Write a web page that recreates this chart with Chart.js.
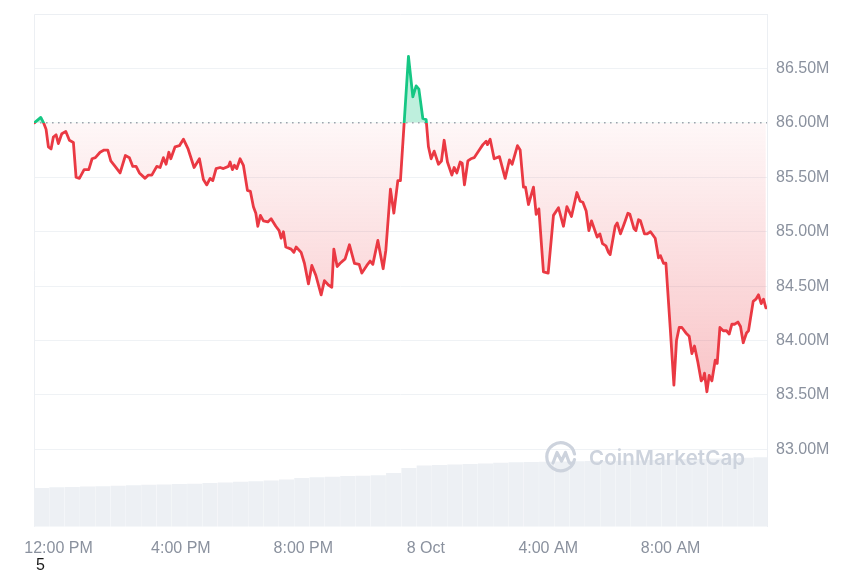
<!DOCTYPE html>
<html>
<head>
<meta charset="utf-8">
<script src="https://cdn.jsdelivr.net/npm/chart.js@4/dist/chart.umd.min.js"></script>
<style>
  html, body { margin: 0; padding: 0; background: #ffffff; }
  #wrap { position: relative; width: 860px; height: 573px; overflow: hidden; }
  #c { position: absolute; left: 0; top: 0; }
  #wm { position: absolute; left: 544px; top: 440px; height: 34px; display: flex; align-items: center; pointer-events: none; }
  #wm span { font-family: Inter, 'Noto Sans', sans-serif; font-weight: 600; font-size: 20.5px; color: #cdd3dd; margin-left: 11px; letter-spacing: 0.1px; }
  #note { position: absolute; left: 36px; top: 557px; font-family: 'Liberation Sans', Arial, sans-serif; font-size: 16px; line-height: 16px; color: #1a1a1a; }
</style>
</head>
<body>
<div id="wrap">
  <canvas id="c" width="860" height="573"></canvas>
  <div id="wm">
    <svg width="34" height="34" viewBox="0 0 34 34">
      <path d="M30.5 19.5 A14 14 0 1 1 30.5 14" fill="none" stroke="#cdd3dd" stroke-width="3.2" stroke-linecap="round"/>
      <path d="M9 23 L13 12.5 L17.5 21 L21.5 12.5 L25 22 Q26.5 25 29.5 22.5" fill="none" stroke="#cdd3dd" stroke-width="3.2" stroke-linecap="round" stroke-linejoin="round"/>
    </svg>
    <span>CoinMarketCap</span>
  </div>
  <div id="note">5</div>
</div>
<script>
// ---- data (time = hours after 12:00 PM, 7 Oct; market cap in millions USD) ----
const TIMES = [
  -0.790,-0.578,-0.471,-0.405,-0.330,-0.242,-0.167,-0.078,-0.003,0.108,
  0.239,0.356,0.487,0.575,0.683,0.837,0.990,1.098,1.206,1.359,
  1.490,1.611,1.709,1.850,2.013,2.186,2.317,2.428,2.536,2.644,
  2.830,2.938,3.049,3.212,3.320,3.428,3.516,3.605,3.670,3.810,
  3.951,4.082,4.235,4.431,4.605,4.735,4.846,4.954,5.042,5.150,
  5.281,
  5.389,5.552,5.608,5.683,5.748,5.827,5.935,6.042,6.173,6.271,
  6.369,6.448,6.513,6.598,6.696,6.840,6.948,7.101,7.209,7.275,
  7.350,7.428,7.601,7.690,7.765,7.928,8.036,8.167,8.278,8.408,
  8.582,8.690,8.820,8.931,8.997,9.105,9.203,9.366,9.507,9.670,
  9.824,9.912,10.075,10.183,10.271,10.435,10.608,10.696,10.846,10.958,
  11.088,11.173,
  11.435,11.578,11.686,11.775,11.905,12.013,12.088,12.176,12.275,12.415,
  12.513,12.601,12.709,12.853,12.928,13.016,13.124,13.190,13.265,13.376,
  13.474,13.582,13.722,13.866,13.974,14.016,14.105,14.235,14.408,14.595,
  14.735,14.824,14.997,15.085,15.193,15.258,15.356,15.520,15.608,15.696,
  15.846,16.000,16.173,16.337,16.500,16.611,16.761,16.938,17.046,17.134,
  17.242,
  17.330,17.415,17.601,17.689,17.775,17.886,17.971,18.026,18.190,18.255,
  18.363,18.493,18.605,18.670,18.801,18.866,18.951,19.016,19.147,19.235,
  19.343,19.497,19.605,19.670,19.768,19.847,19.987,20.108,20.193,20.281,
  20.369,20.500,20.608,20.696,20.781,20.892,21.000,21.075,21.108,21.186,
  21.261,21.350,21.458,21.523,21.611,21.719,21.827,21.915,22.003,22.088,
  22.199,22.284,22.373,22.480,22.546,22.699,22.788,22.873,22.961,23.036,
  23.114
];
const CAP = [
  86.00,86.05,85.99,85.94,85.78,85.76,85.87,85.89,85.81,85.90,
  85.92,85.84,85.82,85.50,85.49,85.57,85.57,85.67,85.68,85.73,
  85.75,85.75,85.65,85.60,85.54,85.70,85.68,85.60,85.60,85.54,
  85.49,85.52,85.52,85.60,85.59,85.68,85.62,85.73,85.67,85.78,
  85.79,85.85,85.76,85.59,85.67,85.48,85.43,85.49,85.47,85.58,
  85.59,
  85.58,85.60,85.64,85.57,85.61,85.58,85.67,85.61,85.38,85.37,
  85.23,85.17,85.05,85.15,85.10,85.09,85.12,85.05,85.01,84.94,
  85.00,84.86,84.84,84.81,84.86,84.81,84.71,84.52,84.69,84.60,
  84.42,84.55,84.51,84.49,84.84,84.68,84.71,84.75,84.88,84.71,
  84.70,84.62,84.69,84.73,84.70,84.92,84.66,84.83,85.39,85.17,
  85.47,85.47,
  86.61,86.24,86.34,86.31,86.04,86.03,85.78,85.67,85.74,85.62,
  85.65,85.84,85.64,85.52,85.59,85.54,85.64,85.63,85.43,85.65,
  85.67,85.68,85.74,85.80,85.83,85.80,85.85,85.67,85.69,85.49,
  85.66,85.62,85.79,85.75,85.41,85.41,85.25,85.41,85.16,85.21,
  84.63,84.62,85.15,85.22,85.05,85.23,85.14,85.36,85.28,85.27,
  85.19,
  85.01,85.10,84.95,84.98,84.89,84.87,84.81,84.79,85.05,85.08,
  84.98,85.08,85.17,85.16,85.03,85.01,85.11,85.10,84.98,84.98,
  85.00,84.94,84.76,84.78,84.71,84.71,84.12,83.59,84.00,84.12,
  84.12,84.07,84.04,83.88,83.95,83.80,83.63,83.66,83.70,83.53,
  83.68,83.63,83.82,83.79,84.12,84.09,84.09,84.06,84.15,84.15,
  84.17,84.13,83.98,84.07,84.09,84.36,84.38,84.42,84.34,84.38,
  84.30
];
const BASE = 86.00; // opening value (dotted reference line)

// volume bars, half-hour buckets (hours after 12:00 PM), relative units
const VOL_TIMES = [
  -0.55,-0.05,0.45,0.95,1.45,1.95,2.45,2.95,3.45,3.95,
  4.45,4.95,5.45,5.95,6.45,6.95,7.45,7.95,8.45,8.95,
  9.45,9.95,10.45,10.95,11.45,11.95,12.45,12.95,13.45,13.95,
  14.45,14.95,15.45,15.95,16.45,16.95,17.45,17.95,18.45,18.95,
  19.45,19.95,20.45,20.95,21.45,21.95,22.45,22.95
];
const VOLUME = [
  3.02,3.07,3.10,3.13,3.16,3.20,3.23,3.27,3.30,3.33,
  3.36,3.40,3.45,3.50,3.55,3.60,3.69,3.80,3.86,3.90,
  3.95,3.98,4.02,4.18,4.57,4.77,4.82,4.86,4.90,4.94,
  4.98,5.02,5.05,5.07,5.09,5.10,5.12,5.13,5.15,5.16,
  5.20,5.23,5.26,5.29,5.32,5.35,5.38,5.41
];

const X_TICKS = [0, 4, 8, 12, 16, 20];
const X_LABELS = ['12:00 PM', '4:00 PM', '8:00 PM', '8 Oct', '4:00 AM', '8:00 AM'];
const Y_TICKS = [83.0, 83.5, 84.0, 84.5, 85.0, 85.5, 86.0, 86.5];

// ---- styling ----
const RED = '#ea3943';
const GREEN = '#16c784';
const GRID = '#eff2f5';
const FRAME = '#eceff3';
const LABEL = '#8a919e';
const X_MIN = -0.8, X_MAX = 23.15;
const Y_MIN = 82.29, Y_MAX = 87.0;

Chart.defaults.font.family = "'Liberation Sans', Arial, Helvetica, sans-serif";
Chart.defaults.font.size = 16;
Chart.defaults.color = LABEL;

function lineGradient(context) {
  const chart = context.chart;
  const { chartArea, scales } = chart;
  if (!chartArea || !scales.y) return RED;
  const yb = scales.y.getPixelForValue(BASE);
  const g = chart.ctx.createLinearGradient(0, chartArea.top, 0, chartArea.bottom);
  let t = (yb - chartArea.top) / (chartArea.bottom - chartArea.top);
  t = Math.min(1, Math.max(0, t));
  g.addColorStop(0, GREEN);
  g.addColorStop(t, GREEN);
  g.addColorStop(t, RED);
  g.addColorStop(1, RED);
  return g;
}
function fillGradient(context) {
  const chart = context.chart;
  const { chartArea, scales } = chart;
  if (!chartArea || !scales.y) return 'rgba(234,57,67,0.1)';
  const y0 = scales.y.getPixelForValue(BASE);
  const y1 = scales.y.getPixelForValue(83.5);
  const g = chart.ctx.createLinearGradient(0, y0, 0, y1);
  g.addColorStop(0, 'rgba(234,57,67,0.04)');
  g.addColorStop(1, 'rgba(234,57,67,0.30)');
  return g;
}

const framePlugin = {
  id: 'frame',
  beforeDatasetsDraw(chart) {
    const { ctx, chartArea: a } = chart;
    ctx.save();
    ctx.strokeStyle = FRAME;
    ctx.lineWidth = 1;
    ctx.beginPath();
    ctx.moveTo(Math.round(a.left) + 0.5, a.bottom);
    ctx.lineTo(Math.round(a.left) + 0.5, Math.round(a.top) + 0.5);
    ctx.lineTo(a.right, Math.round(a.top) + 0.5);
    ctx.stroke();
    ctx.restore();
  }
};

new Chart(document.getElementById('c'), {
  data: {
    datasets: [
      {
        type: 'line',
        label: 'Market cap',
        data: TIMES.map((t, i) => ({ x: t, y: CAP[i] })),
        yAxisID: 'y',
        borderColor: lineGradient,
        backgroundColor: fillGradient,
        borderWidth: 2.8,
        borderJoinStyle: 'round',
        borderCapStyle: 'round',
        pointRadius: 0,
        tension: 0,
        fill: { value: BASE, above: 'rgba(22,199,132,0.28)' },
        order: 0
      },
      {
        type: 'line',
        label: 'Open',
        data: [{ x: X_MIN, y: BASE }, { x: X_MAX, y: BASE }],
        yAxisID: 'y',
        borderColor: '#9ea4ae',
        borderWidth: 1.5,
        borderDash: [1.6, 4.4],
        pointRadius: 0,
        fill: false,
        order: 1
      },
      {
        type: 'bar',
        label: 'Volume',
        data: VOL_TIMES.map((t, i) => ({ x: t, y: VOLUME[i] })),
        yAxisID: 'yv',
        backgroundColor: '#edf0f4',
        borderWidth: 0,
        barPercentage: 1,
        categoryPercentage: 0.985,
        order: 2
      }
    ]
  },
  options: {
    responsive: false,
    animation: false,
    layout: { padding: { left: 34, top: 14, right: 0, bottom: 0 } },
    plugins: {
      legend: { display: false },
      tooltip: { enabled: false },
      filler: { drawTime: 'beforeDatasetsDraw' }
    },
    scales: {
      x: {
        type: 'linear',
        position: 'bottom',
        min: X_MIN,
        max: X_MAX,
        offset: false,
        grid: { display: false, drawTicks: false },
        border: { display: false },
        afterBuildTicks: (scale) => { scale.ticks = X_TICKS.map(v => ({ value: v })); },
        afterFit: (scale) => { scale.height = 46.3; scale.paddingLeft = 0; scale.paddingRight = 0; },
        ticks: {
          autoSkip: false,
          maxRotation: 0,
          padding: 12,
          color: LABEL,
          font: { size: 16 },
          callback: (v) => X_LABELS[X_TICKS.indexOf(v)]
        }
      },
      y: {
        type: 'linear',
        position: 'right',
        min: Y_MIN,
        max: Y_MAX,
        grid: {
          drawTicks: false,
          color: (ctx) => (ctx.tick && Math.abs(ctx.tick.value - BASE) < 1e-6) ? 'rgba(0,0,0,0)' : GRID,
          lineWidth: 1
        },
        border: { display: true, color: FRAME },
        afterBuildTicks: (scale) => { scale.ticks = Y_TICKS.map(v => ({ value: v })); },
        afterFit: (scale) => { scale.width = 93; scale.paddingTop = 0; scale.paddingBottom = 0; },
        ticks: {
          padding: 9,
          color: LABEL,
          font: { size: 16 },
          callback: (v) => v.toFixed(2) + 'M'
        }
      },
      yv: {
        type: 'linear',
        display: false,
        min: 0,
        max: 40
      }
    }
  },
  plugins: [framePlugin]
});
</script>
</body>
</html>
